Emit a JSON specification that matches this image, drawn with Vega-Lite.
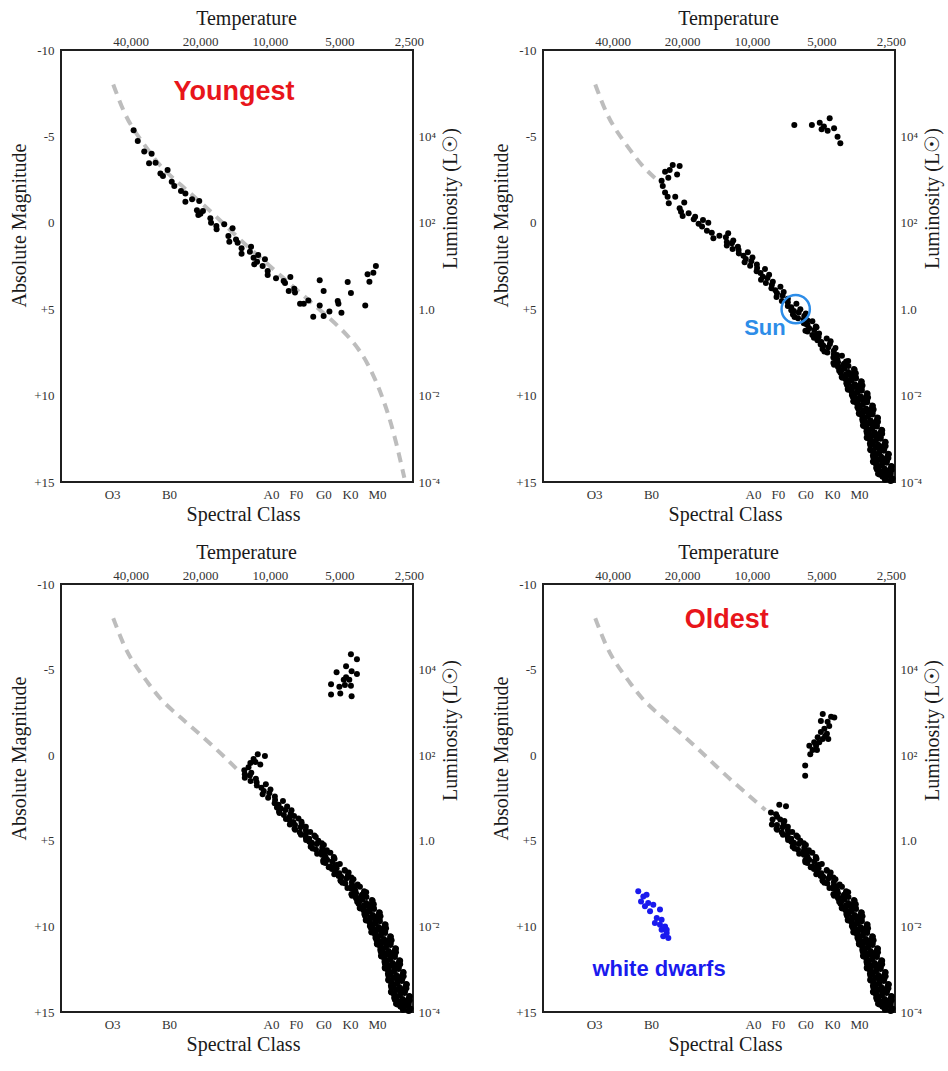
{
  "$schema": "https://vega.github.io/schema/vega-lite/v6.json",
  "background": "white",
  "padding": {"left": 8, "top": 7, "right": 5, "bottom": 5},
  "config": {
    "view": {"stroke": "#1f1f1f", "strokeWidth": 2},
    "axis": {"grid": false, "domain": false, "ticks": false, "tickSize": 0, "labelFont": "Liberation Serif", "labelFontSize": 13, "labelColor": "#333333", "titleFont": "Liberation Serif", "titleFontSize": 20, "titleFontWeight": "normal", "titleColor": "#1a1a1a"}
  },
  "datasets": {
    "zams": [
      {"logT": 4.677, "M": -8.0}, {"logT": 4.629, "M": -6.3}, {"logT": 4.586, "M": -5.31}, {"logT": 4.528, "M": -4.25},
      {"logT": 4.470, "M": -3.19}, {"logT": 4.394, "M": -2.3}, {"logT": 4.355, "M": -1.84}, {"logT": 4.240, "M": -0.49},
      {"logT": 4.128, "M": 1.0}, {"logT": 4.009, "M": 2.40}, {"logT": 3.941, "M": 3.2}, {"logT": 3.894, "M": 3.75},
      {"logT": 3.778, "M": 5.1}, {"logT": 3.663, "M": 6.45}, {"logT": 3.576, "M": 8.0}, {"logT": 3.505, "M": 10.3},
      {"logT": 3.461, "M": 12.24}, {"logT": 3.418, "M": 14.75}
    ],
    "stars": [
      {"p":"A","logT":4.589,"M":-5.35},{"p":"A","logT":4.571,"M":-4.73},{"p":"A","logT":4.543,"M":-4.12},{"p":"A","logT":4.511,"M":-4.00},
      {"p":"A","logT":4.522,"M":-3.44},{"p":"A","logT":4.494,"M":-3.48},{"p":"A","logT":4.473,"M":-2.86},{"p":"A","logT":4.462,"M":-2.71},
      {"p":"A","logT":4.442,"M":-3.06},{"p":"A","logT":4.424,"M":-2.38},{"p":"A","logT":4.413,"M":-2.13},{"p":"A","logT":4.384,"M":-1.84},
      {"p":"A","logT":4.365,"M":-1.69},{"p":"A","logT":4.365,"M":-1.22},{"p":"A","logT":4.336,"M":-1.36},{"p":"A","logT":4.305,"M":-1.26},
      {"p":"A","logT":4.315,"M":-0.72},{"p":"A","logT":4.300,"M":-0.53},{"p":"A","logT":4.289,"M":-0.68},{"p":"A","logT":4.309,"M":-0.45},
      {"p":"A","logT":4.257,"M":-0.26},{"p":"A","logT":4.254,"M":-0.01},{"p":"A","logT":4.231,"M":0.19},{"p":"A","logT":4.230,"M":0.38},
      {"p":"A","logT":4.197,"M":0.09},{"p":"A","logT":4.161,"M":0.32},{"p":"A","logT":4.179,"M":0.76},{"p":"A","logT":4.175,"M":1.09},
      {"p":"A","logT":4.146,"M":0.96},{"p":"A","logT":4.139,"M":1.15},{"p":"A","logT":4.122,"M":1.48},{"p":"A","logT":4.122,"M":1.79},
      {"p":"A","logT":4.081,"M":1.38},{"p":"A","logT":4.086,"M":1.67},{"p":"A","logT":4.070,"M":2.02},{"p":"A","logT":4.067,"M":2.40},
      {"p":"A","logT":4.050,"M":1.86},{"p":"A","logT":4.055,"M":2.25},{"p":"A","logT":4.021,"M":2.11},{"p":"A","logT":4.031,"M":2.50},
      {"p":"A","logT":4.009,"M":2.79},{"p":"A","logT":4.009,"M":3.02},{"p":"A","logT":3.973,"M":3.21},{"p":"A","logT":3.940,"M":3.37},
      {"p":"A","logT":3.934,"M":3.48},{"p":"A","logT":3.911,"M":3.14},{"p":"A","logT":3.918,"M":3.95},{"p":"A","logT":3.894,"M":3.81},
      {"p":"A","logT":3.891,"M":4.04},{"p":"A","logT":3.869,"M":4.68},{"p":"A","logT":3.853,"M":4.68},{"p":"A","logT":3.833,"M":4.49},
      {"p":"A","logT":3.812,"M":5.43},{"p":"A","logT":3.784,"M":3.33},{"p":"A","logT":3.767,"M":3.95},{"p":"A","logT":3.784,"M":4.78},
      {"p":"A","logT":3.767,"M":5.39},{"p":"A","logT":3.742,"M":5.14},{"p":"A","logT":3.706,"M":4.53},{"p":"A","logT":3.703,"M":4.68},
      {"p":"A","logT":3.690,"M":5.20},{"p":"A","logT":3.663,"M":3.43},{"p":"A","logT":3.649,"M":4.06},{"p":"A","logT":3.587,"M":4.78},
      {"p":"A","logT":3.569,"M":3.41},{"p":"A","logT":3.577,"M":2.98},{"p":"A","logT":3.552,"M":2.89},{"p":"A","logT":3.541,"M":2.50},

      {"p":"B","logT":4.342,"M":-3.34},{"p":"B","logT":4.312,"M":-3.29},{"p":"B","logT":4.355,"M":-3.06},{"p":"B","logT":4.375,"M":-2.96},
      {"p":"B","logT":4.323,"M":-2.80},{"p":"B","logT":4.361,"M":-2.61},{"p":"B","logT":4.390,"M":-2.44},{"p":"B","logT":4.385,"M":-2.13},
      {"p":"B","logT":4.375,"M":-1.76},{"p":"B","logT":4.364,"M":-1.51},{"p":"B","logT":4.331,"M":-1.51},{"p":"B","logT":4.359,"M":-1.13},
      {"p":"B","logT":4.292,"M":-1.17},{"p":"B","logT":4.312,"M":-0.84},{"p":"B","logT":4.306,"M":-0.64},{"p":"B","logT":4.299,"M":-0.39},
      {"p":"B","logT":4.273,"M":-0.55},{"p":"B","logT":4.251,"M":-0.20},{"p":"B","logT":4.211,"M":-0.16},{"p":"B","logT":4.188,"M":-0.01},
      {"p":"B","logT":4.215,"M":0.22},{"p":"B","logT":4.194,"M":0.46},{"p":"B","logT":4.173,"M":0.57},{"p":"B","logT":4.112,"M":0.84},
      {"p":"B","logT":4.166,"M":0.90},{"p":"B","logT":4.102,"M":0.61},{"p":"B","logT":4.140,"M":0.75},{"p":"B","logT":4.230,"M":0.05},
      {"p":"B","logT":4.245,"M":-0.35},
      {"p":"B","logT":3.816,"M":-5.66},{"p":"B","logT":3.740,"M":-5.66},{"p":"B","logT":3.706,"M":-5.79},{"p":"B","logT":3.663,"M":-6.05},
      {"p":"B","logT":3.698,"M":-5.41},{"p":"B","logT":3.672,"M":-5.33},{"p":"B","logT":3.644,"M":-5.47},{"p":"B","logT":3.629,"M":-4.98},
      {"p":"B","logT":3.617,"M":-4.60},{"p":"B","logT":3.688,"M":-5.57},

      {"p":"C","logT":4.052,"M":-0.05},{"p":"C","logT":4.021,"M":0.05},{"p":"C","logT":4.070,"M":0.22},{"p":"C","logT":4.084,"M":0.45},
      {"p":"C","logT":4.041,"M":0.55},{"p":"C","logT":4.110,"M":0.88},{"p":"C","logT":4.092,"M":0.70},{"p":"C","logT":4.062,"M":0.40},
      {"p":"C","logT":3.649,"M":-5.9},{"p":"C","logT":3.623,"M":-5.6},{"p":"C","logT":3.670,"M":-5.2},{"p":"C","logT":3.711,"M":-4.85},
      {"p":"C","logT":3.646,"M":-4.9},{"p":"C","logT":3.623,"M":-4.75},{"p":"C","logT":3.670,"M":-4.55},{"p":"C","logT":3.656,"M":-4.4},
      {"p":"C","logT":3.735,"M":-4.15},{"p":"C","logT":3.699,"M":-4.0},{"p":"C","logT":3.675,"M":-4.1},{"p":"C","logT":3.649,"M":-4.05},
      {"p":"C","logT":3.735,"M":-3.55},{"p":"C","logT":3.695,"M":-3.6},{"p":"C","logT":3.646,"M":-3.45},{"p":"C","logT":3.680,"M":-4.4},

      {"p":"D","logT":3.881,"M":2.9},{"p":"D","logT":3.852,"M":2.98},{"p":"D","logT":3.917,"M":3.35},{"p":"D","logT":3.895,"M":3.45},
      {"p":"D","logT":3.910,"M":3.75},{"p":"D","logT":3.877,"M":3.75},{"p":"D","logT":3.859,"M":3.85},{"p":"D","logT":3.890,"M":3.60},
      {"p":"D","logT":3.693,"M":-2.4},{"p":"D","logT":3.657,"M":-2.25},{"p":"D","logT":3.643,"M":-2.2},{"p":"D","logT":3.701,"M":-2.0},
      {"p":"D","logT":3.672,"M":-1.95},{"p":"D","logT":3.665,"M":-1.7},{"p":"D","logT":3.686,"M":-1.55},{"p":"D","logT":3.701,"M":-1.35},
      {"p":"D","logT":3.675,"M":-1.25},{"p":"D","logT":3.715,"M":-1.05},{"p":"D","logT":3.693,"M":-0.95},{"p":"D","logT":3.730,"M":-0.75},
      {"p":"D","logT":3.708,"M":-0.75},{"p":"D","logT":3.751,"M":-0.55},{"p":"D","logT":3.722,"M":-0.55},{"p":"D","logT":3.737,"M":-0.3},
      {"p":"D","logT":3.747,"M":-0.05},{"p":"D","logT":3.718,"M":-0.3},{"p":"D","logT":3.769,"M":0.6},{"p":"D","logT":3.769,"M":1.2},
      {"p":"D","logT":3.683,"M":-1.1},{"p":"D","logT":3.669,"M":-0.95},

      {"p":"WD","logT":4.491,"M":7.95},{"p":"WD","logT":4.469,"M":8.25},{"p":"WD","logT":4.455,"M":8.15},{"p":"WD","logT":4.479,"M":8.54},
      {"p":"WD","logT":4.448,"M":8.64},{"p":"WD","logT":4.426,"M":8.73},{"p":"WD","logT":4.462,"M":8.83},{"p":"WD","logT":4.440,"M":9.12},
      {"p":"WD","logT":4.397,"M":9.02},{"p":"WD","logT":4.411,"M":9.51},{"p":"WD","logT":4.390,"M":9.61},{"p":"WD","logT":4.419,"M":9.80},
      {"p":"WD","logT":4.397,"M":9.90},{"p":"WD","logT":4.375,"M":10.00},{"p":"WD","logT":4.390,"M":10.19},{"p":"WD","logT":4.368,"M":10.39},
      {"p":"WD","logT":4.383,"M":10.58},{"p":"WD","logT":4.361,"M":10.68},{"p":"WD","logT":4.368,"M":10.19},

      {"p":"CD","logT":3.969,"M":3.05},{"p":"CD","logT":3.906,"M":3.22},{"p":"CD","logT":3.958,"M":3.38},{"p":"CD","logT":3.895,"M":3.55},
      {"p":"CD","logT":3.930,"M":3.72},{"p":"CD","logT":3.863,"M":3.88},{"p":"CD","logT":3.913,"M":4.05},{"p":"CD","logT":3.844,"M":4.18},
      {"p":"CD","logT":3.890,"M":4.35},{"p":"CD","logT":3.825,"M":4.48},{"p":"CD","logT":3.865,"M":4.65},{"p":"CD","logT":3.801,"M":4.78},
      {"p":"CD","logT":3.843,"M":4.95},{"p":"CD","logT":3.775,"M":5.15},{"p":"CD","logT":3.823,"M":5.35},{"p":"CD","logT":3.753,"M":5.55},
      {"p":"CD","logT":3.795,"M":5.75},{"p":"CD","logT":3.723,"M":5.95},{"p":"CD","logT":3.769,"M":6.15},{"p":"CD","logT":3.697,"M":6.35},
      {"p":"CD","logT":3.745,"M":6.55},{"p":"CD","logT":3.675,"M":6.75},{"p":"CD","logT":3.721,"M":6.95},{"p":"CD","logT":3.647,"M":7.15},
      {"p":"CD","logT":3.693,"M":7.35},{"p":"CD","logT":3.620,"M":7.55},{"p":"CD","logT":3.664,"M":7.75},{"p":"CD","logT":3.592,"M":7.95},

      {"p":"ms","logT":4.080,"M":1.02},{"p":"ms","logT":4.108,"M":1.11},{"p":"ms","logT":4.086,"M":1.19},{"p":"ms","logT":4.108,"M":1.32},
      {"p":"ms","logT":4.060,"M":1.38},{"p":"ms","logT":4.083,"M":1.51},{"p":"ms","logT":4.057,"M":1.58},{"p":"ms","logT":4.017,"M":1.70},
      {"p":"ms","logT":4.056,"M":1.77},{"p":"ms","logT":4.036,"M":1.90},{"p":"ms","logT":3.997,"M":2.01},{"p":"ms","logT":4.026,"M":2.09},
      {"p":"ms","logT":4.002,"M":2.22},{"p":"ms","logT":4.031,"M":2.28},{"p":"ms","logT":3.978,"M":2.41},{"p":"ms","logT":4.007,"M":2.49},
      {"p":"ms","logT":3.977,"M":2.62},{"p":"ms","logT":3.943,"M":2.68},{"p":"ms","logT":3.979,"M":2.81},{"p":"ms","logT":3.962,"M":2.90},
      {"p":"ms","logT":3.925,"M":3.00},{"p":"ms","logT":3.952,"M":3.12},{"p":"ms","logT":3.932,"M":3.20},{"p":"ms","logT":3.960,"M":3.29},
      {"p":"ms","logT":3.909,"M":3.41},{"p":"ms","logT":3.939,"M":3.49},{"p":"ms","logT":3.913,"M":3.58},{"p":"ms","logT":3.876,"M":3.70},
      {"p":"ms","logT":3.915,"M":3.79},{"p":"ms","logT":3.898,"M":3.90},{"p":"ms","logT":3.862,"M":4.00},{"p":"ms","logT":3.891,"M":4.08},
      {"p":"ms","logT":3.867,"M":4.21},{"p":"ms","logT":3.893,"M":4.30},{"p":"ms","logT":3.844,"M":4.39},{"p":"ms","logT":3.870,"M":4.52},
      {"p":"ms","logT":3.844,"M":4.60},{"p":"ms","logT":3.807,"M":4.69},{"p":"ms","logT":3.844,"M":4.81},{"p":"ms","logT":3.829,"M":4.88},
      {"p":"ms","logT":3.790,"M":5.00},{"p":"ms","logT":3.818,"M":5.11},{"p":"ms","logT":3.797,"M":5.19},{"p":"ms","logT":3.822,"M":5.31},
      {"p":"ms","logT":3.773,"M":5.40},{"p":"ms","logT":3.800,"M":5.52},{"p":"ms","logT":3.775,"M":5.59},{"p":"ms","logT":3.738,"M":5.70},
      {"p":"ms","logT":3.775,"M":5.82},{"p":"ms","logT":3.759,"M":5.91},{"p":"ms","logT":3.723,"M":6.00},{"p":"ms","logT":3.752,"M":6.10},
      {"p":"ms","logT":3.730,"M":6.21},{"p":"ms","logT":3.759,"M":6.29},{"p":"ms","logT":3.709,"M":6.40},{"p":"ms","logT":3.738,"M":6.50},
      {"p":"ms","logT":3.711,"M":6.61},{"p":"ms","logT":3.676,"M":6.70},{"p":"ms","logT":3.716,"M":6.79},{"p":"ms","logT":3.699,"M":6.90},
      {"p":"ms","logT":3.662,"M":7.01},{"p":"ms","logT":3.691,"M":7.10},{"p":"ms","logT":3.669,"M":7.20},{"p":"ms","logT":3.694,"M":7.31},
      {"p":"ms","logT":3.645,"M":7.40},{"p":"ms","logT":3.673,"M":7.50},{"p":"ms","logT":3.645,"M":7.61},{"p":"ms","logT":3.610,"M":7.69},
      {"p":"ms","logT":3.647,"M":7.80},{"p":"ms","logT":3.630,"M":7.90},
      {"p":"ms","logT":3.583,"M":8.00},{"p":"ms","logT":3.627,"M":8.07},{"p":"ms","logT":3.601,"M":8.15},{"p":"ms","logT":3.644,"M":8.21},
      {"p":"ms","logT":3.582,"M":8.29},{"p":"ms","logT":3.627,"M":8.35},{"p":"ms","logT":3.600,"M":8.43},{"p":"ms","logT":3.555,"M":8.50},
      {"p":"ms","logT":3.622,"M":8.56},{"p":"ms","logT":3.583,"M":8.64},{"p":"ms","logT":3.550,"M":8.71},{"p":"ms","logT":3.593,"M":8.78},
      {"p":"ms","logT":3.568,"M":8.85},{"p":"ms","logT":3.611,"M":8.92},{"p":"ms","logT":3.549,"M":8.99},{"p":"ms","logT":3.594,"M":9.06},
      {"p":"ms","logT":3.568,"M":9.13},{"p":"ms","logT":3.524,"M":9.20},{"p":"ms","logT":3.591,"M":9.28},{"p":"ms","logT":3.554,"M":9.34},
      {"p":"ms","logT":3.521,"M":9.41},{"p":"ms","logT":3.566,"M":9.48},{"p":"ms","logT":3.541,"M":9.55},{"p":"ms","logT":3.585,"M":9.62},
      {"p":"ms","logT":3.524,"M":9.70},{"p":"ms","logT":3.569,"M":9.76},{"p":"ms","logT":3.544,"M":9.83},{"p":"ms","logT":3.499,"M":9.90},
      {"p":"ms","logT":3.567,"M":9.97},{"p":"ms","logT":3.530,"M":10.04},{"p":"ms","logT":3.497,"M":10.11},{"p":"ms","logT":3.542,"M":10.18},
      {"p":"ms","logT":3.517,"M":10.25},{"p":"ms","logT":3.561,"M":10.32},{"p":"ms","logT":3.501,"M":10.39},{"p":"ms","logT":3.545,"M":10.46},
      {"p":"ms","logT":3.520,"M":10.53},{"p":"ms","logT":3.476,"M":10.60},{"p":"ms","logT":3.543,"M":10.67},{"p":"ms","logT":3.506,"M":10.74},
      {"p":"ms","logT":3.473,"M":10.81},{"p":"ms","logT":3.518,"M":10.88},{"p":"ms","logT":3.494,"M":10.95},{"p":"ms","logT":3.537,"M":11.02},
      {"p":"ms","logT":3.478,"M":11.09},{"p":"ms","logT":3.523,"M":11.16},{"p":"ms","logT":3.498,"M":11.23},{"p":"ms","logT":3.454,"M":11.30},
      {"p":"ms","logT":3.522,"M":11.37},{"p":"ms","logT":3.486,"M":11.44},{"p":"ms","logT":3.454,"M":11.51},{"p":"ms","logT":3.499,"M":11.58},
      {"p":"ms","logT":3.475,"M":11.65},{"p":"ms","logT":3.519,"M":11.72},{"p":"ms","logT":3.459,"M":11.79},{"p":"ms","logT":3.505,"M":11.86},
      {"p":"ms","logT":3.480,"M":11.93},{"p":"ms","logT":3.436,"M":12.00},{"p":"ms","logT":3.504,"M":12.07},{"p":"ms","logT":3.468,"M":12.14},
      {"p":"ms","logT":3.436,"M":12.21},{"p":"ms","logT":3.482,"M":12.28},{"p":"ms","logT":3.458,"M":12.35},{"p":"ms","logT":3.503,"M":12.42},
      {"p":"ms","logT":3.443,"M":12.49},{"p":"ms","logT":3.489,"M":12.56},{"p":"ms","logT":3.464,"M":12.63},{"p":"ms","logT":3.421,"M":12.70},
      {"p":"ms","logT":3.489,"M":12.77},{"p":"ms","logT":3.453,"M":12.84},{"p":"ms","logT":3.421,"M":12.91},{"p":"ms","logT":3.466,"M":12.98},
      {"p":"ms","logT":3.443,"M":13.05},{"p":"ms","logT":3.488,"M":13.12},{"p":"ms","logT":3.429,"M":13.19},{"p":"ms","logT":3.475,"M":13.26},
      {"p":"ms","logT":3.450,"M":13.33},{"p":"ms","logT":3.407,"M":13.40},{"p":"ms","logT":3.476,"M":13.47},{"p":"ms","logT":3.440,"M":13.54},
      {"p":"ms","logT":3.409,"M":13.61},{"p":"ms","logT":3.454,"M":13.68},{"p":"ms","logT":3.431,"M":13.75},{"p":"ms","logT":3.476,"M":13.82},
      {"p":"ms","logT":3.417,"M":13.89},{"p":"ms","logT":3.463,"M":13.96},{"p":"ms","logT":3.438,"M":14.03},{"p":"ms","logT":3.394,"M":14.10},
      {"p":"ms","logT":3.462,"M":14.17},{"p":"ms","logT":3.425,"M":14.24},{"p":"ms","logT":3.394,"M":14.31},{"p":"ms","logT":3.439,"M":14.38},
      {"p":"ms","logT":3.415,"M":14.45},{"p":"ms","logT":3.454,"M":14.52},{"p":"ms","logT":3.400,"M":14.59},{"p":"ms","logT":3.435,"M":14.66},
      {"p":"ms","logT":3.420,"M":14.73},{"p":"ms","logT":3.391,"M":14.80},{"p":"ms","logT":3.424,"M":14.87},{"p":"ms","logT":3.400,"M":14.94},

      {"p":"ms","logT":3.829,"M":5.06},{"p":"ms","logT":3.766,"M":5.25},{"p":"ms","logT":3.815,"M":5.45},{"p":"ms","logT":3.759,"M":5.65},
      {"p":"ms","logT":3.765,"M":5.86},{"p":"ms","logT":3.720,"M":6.05},{"p":"ms","logT":3.768,"M":6.25},{"p":"ms","logT":3.718,"M":6.45},
      {"p":"ms","logT":3.731,"M":6.65},{"p":"ms","logT":3.659,"M":6.85},{"p":"ms","logT":3.702,"M":7.05},{"p":"ms","logT":3.638,"M":7.25},
      {"p":"ms","logT":3.686,"M":7.45},{"p":"ms","logT":3.631,"M":7.65},{"p":"ms","logT":3.637,"M":7.85},
      {"p":"ms","logT":3.592,"M":8.03},{"p":"ms","logT":3.647,"M":8.12},{"p":"ms","logT":3.604,"M":8.24},{"p":"ms","logT":3.624,"M":8.33},
      {"p":"ms","logT":3.558,"M":8.46},{"p":"ms","logT":3.611,"M":8.53},{"p":"ms","logT":3.557,"M":8.61},{"p":"ms","logT":3.616,"M":8.68},
      {"p":"ms","logT":3.571,"M":8.75},{"p":"ms","logT":3.588,"M":8.82},{"p":"ms","logT":3.551,"M":8.89},{"p":"ms","logT":3.608,"M":8.96},
      {"p":"ms","logT":3.567,"M":9.03},{"p":"ms","logT":3.589,"M":9.10},{"p":"ms","logT":3.527,"M":9.17},{"p":"ms","logT":3.581,"M":9.24},
      {"p":"ms","logT":3.528,"M":9.31},{"p":"ms","logT":3.588,"M":9.38},{"p":"ms","logT":3.543,"M":9.45},{"p":"ms","logT":3.561,"M":9.52},
      {"p":"ms","logT":3.525,"M":9.59},{"p":"ms","logT":3.583,"M":9.66},{"p":"ms","logT":3.542,"M":9.73},{"p":"ms","logT":3.565,"M":9.80},
      {"p":"ms","logT":3.502,"M":9.87},{"p":"ms","logT":3.556,"M":9.94},{"p":"ms","logT":3.504,"M":10.01},{"p":"ms","logT":3.563,"M":10.08},
      {"p":"ms","logT":3.519,"M":10.15},{"p":"ms","logT":3.537,"M":10.22},{"p":"ms","logT":3.501,"M":10.29},{"p":"ms","logT":3.559,"M":10.36},
      {"p":"ms","logT":3.518,"M":10.43},{"p":"ms","logT":3.541,"M":10.50},{"p":"ms","logT":3.479,"M":10.57},{"p":"ms","logT":3.532,"M":10.64},
      {"p":"ms","logT":3.480,"M":10.71},{"p":"ms","logT":3.539,"M":10.78},{"p":"ms","logT":3.495,"M":10.85},{"p":"ms","logT":3.513,"M":10.92},
      {"p":"ms","logT":3.477,"M":10.99},{"p":"ms","logT":3.535,"M":11.06},{"p":"ms","logT":3.496,"M":11.13},{"p":"ms","logT":3.519,"M":11.20},
      {"p":"ms","logT":3.457,"M":11.27},{"p":"ms","logT":3.511,"M":11.34},{"p":"ms","logT":3.459,"M":11.41},{"p":"ms","logT":3.520,"M":11.48},
      {"p":"ms","logT":3.476,"M":11.55},{"p":"ms","logT":3.494,"M":11.62},{"p":"ms","logT":3.459,"M":11.69},{"p":"ms","logT":3.517,"M":11.76},
      {"p":"ms","logT":3.477,"M":11.83},{"p":"ms","logT":3.501,"M":11.90},{"p":"ms","logT":3.439,"M":11.97},{"p":"ms","logT":3.493,"M":12.04},
      {"p":"ms","logT":3.442,"M":12.11},{"p":"ms","logT":3.502,"M":12.18},{"p":"ms","logT":3.459,"M":12.25},{"p":"ms","logT":3.477,"M":12.32},
      {"p":"ms","logT":3.442,"M":12.39},{"p":"ms","logT":3.501,"M":12.46},{"p":"ms","logT":3.461,"M":12.53},{"p":"ms","logT":3.485,"M":12.60},
      {"p":"ms","logT":3.423,"M":12.67},{"p":"ms","logT":3.478,"M":12.74},{"p":"ms","logT":3.426,"M":12.81},{"p":"ms","logT":3.487,"M":12.88},
      {"p":"ms","logT":3.443,"M":12.95},{"p":"ms","logT":3.462,"M":13.02},{"p":"ms","logT":3.427,"M":13.09},{"p":"ms","logT":3.486,"M":13.16},
      {"p":"ms","logT":3.447,"M":13.23},{"p":"ms","logT":3.471,"M":13.30},{"p":"ms","logT":3.410,"M":13.37},{"p":"ms","logT":3.464,"M":13.44},
      {"p":"ms","logT":3.413,"M":13.51},{"p":"ms","logT":3.474,"M":13.58},{"p":"ms","logT":3.431,"M":13.65},{"p":"ms","logT":3.450,"M":13.72},
      {"p":"ms","logT":3.415,"M":13.79},{"p":"ms","logT":3.474,"M":13.86},{"p":"ms","logT":3.435,"M":13.93},{"p":"ms","logT":3.459,"M":14.00},
      {"p":"ms","logT":3.397,"M":14.07},{"p":"ms","logT":3.451,"M":14.14},{"p":"ms","logT":3.399,"M":14.21},{"p":"ms","logT":3.459,"M":14.28},
      {"p":"ms","logT":3.416,"M":14.35},{"p":"ms","logT":3.434,"M":14.42},{"p":"ms","logT":3.399,"M":14.49},{"p":"ms","logT":3.448,"M":14.56},
      {"p":"ms","logT":3.418,"M":14.63},{"p":"ms","logT":3.434,"M":14.70},{"p":"ms","logT":3.397,"M":14.77},{"p":"ms","logT":3.420,"M":14.84},
      {"p":"ms","logT":3.395,"M":14.91}
    ]
  },
  "bounds": "flush",
  "columns": 2,
  "spacing": {"row": 102, "column": 130},
  "concat": [
    {
      "width": 352, "height": 432,
      "layer": [
        {
          "data": {"name": "zams"},
          "mark": {"type": "line", "stroke": "#bdbdbd", "strokeWidth": 4, "strokeDash": [10, 7], "interpolate": "basis"},
          "encoding": {
            "x": {"field": "logT", "type": "quantitative", "scale": {"domain": [3.3805, 4.903], "reverse": true, "zero": false, "nice": false},
              "axis": {"orient": "top", "title": "Temperature", "values": [4.60206, 4.30103, 4, 3.69897, 3.39794], "labelExpr": "format(pow(10, datum.value), ',.2r')", "labelPadding": 2, "labelFlush": false, "labelOverlap": false, "titleX": 185, "titleY": -32, "titleBaseline": "middle", "titleAlign": "center"}},
            "y": {"field": "M", "type": "quantitative", "scale": {"domain": [-10, 15], "reverse": true, "zero": false, "nice": false},
              "axis": {"orient": "left", "title": "Absolute Magnitude", "values": [-10, -5, 0, 5, 10, 15], "labelExpr": "datum.value > 0 ? '+' + datum.value : datum.value < 0 ? '-' + (-datum.value) : '0'", "labelPadding": 7, "titleX": -42, "titleY": 175, "titleAngle": 270, "titleBaseline": "middle", "titleAlign": "center"}},
            "order": {"field": "M", "type": "quantitative"}
          }
        },
        {
          "data": {"name": "stars"},
          "transform": [{"filter": "datum.p == 'A'"}],
          "mark": {"type": "circle", "size": 36, "opacity": 1, "color": "#000000"},
          "encoding": {
            "x": {"field": "logT", "type": "quantitative", "scale": {"domain": [3.3805, 4.903], "reverse": true, "zero": false, "nice": false},
              "axis": {"orient": "bottom", "title": "Spectral Class", "values": [4.682, 4.436, 3.995, 3.887, 3.768, 3.653, 3.536], "labelExpr": "datum.value > 4.6 ? 'O3' : datum.value > 4.3 ? 'B0' : datum.value > 3.95 ? 'A0' : datum.value > 3.85 ? 'F0' : datum.value > 3.7 ? 'G0' : datum.value > 3.6 ? 'K0' : 'M0'", "labelPadding": 6, "labelFlush": false, "labelOverlap": false, "titleX": 182, "titleY": 32, "titleBaseline": "middle", "titleAlign": "center"}},
            "y": {"field": "M", "type": "quantitative", "scale": {"domain": [-10, 15], "reverse": true, "zero": false, "nice": false},
              "axis": {"orient": "right", "title": "Luminosity (L☉)", "values": [-5, 0, 5, 10, 15], "labelExpr": "datum.value == -5 ? '10⁴' : datum.value == 0 ? '10²' : datum.value == 5 ? '1.0' : datum.value == 10 ? '10⁻²' : '10⁻⁴'", "labelPadding": 5, "titleX": 37, "titleY": 148, "titleAngle": 270, "titleBaseline": "middle", "titleAlign": "center"}}
          }
        },
        {
          "data": {"values": [{"logT": 4.155, "M": -7.57, "label": "Youngest"}]},
          "mark": {"type": "text", "font": "Liberation Sans", "fontWeight": "bold", "fontSize": 27, "color": "#e8151b", "align": "center", "baseline": "middle"},
          "encoding": {
            "x": {"field": "logT", "type": "quantitative", "scale": {"domain": [3.3805, 4.903], "reverse": true, "zero": false, "nice": false}, "axis": null},
            "y": {"field": "M", "type": "quantitative", "scale": {"domain": [-10, 15], "reverse": true, "zero": false, "nice": false}, "axis": null},
            "text": {"field": "label"}
          }
        }
      ],
      "resolve": {"axis": {"x": "independent", "y": "independent"}}
    },
    {
      "width": 352, "height": 432,
      "layer": [
        {
          "data": {"name": "zams"},
          "transform": [{"filter": "datum.M <= -2.3"}],
          "mark": {"type": "line", "stroke": "#bdbdbd", "strokeWidth": 4, "strokeDash": [10, 7], "interpolate": "basis"},
          "encoding": {
            "x": {"field": "logT", "type": "quantitative", "scale": {"domain": [3.3805, 4.903], "reverse": true, "zero": false, "nice": false},
              "axis": {"orient": "top", "title": "Temperature", "values": [4.60206, 4.30103, 4, 3.69897, 3.39794], "labelExpr": "format(pow(10, datum.value), ',.2r')", "labelPadding": 2, "labelFlush": false, "labelOverlap": false, "titleX": 185, "titleY": -32, "titleBaseline": "middle", "titleAlign": "center"}},
            "y": {"field": "M", "type": "quantitative", "scale": {"domain": [-10, 15], "reverse": true, "zero": false, "nice": false},
              "axis": {"orient": "left", "title": "Absolute Magnitude", "values": [-10, -5, 0, 5, 10, 15], "labelExpr": "datum.value > 0 ? '+' + datum.value : datum.value < 0 ? '-' + (-datum.value) : '0'", "labelPadding": 7, "titleX": -42, "titleY": 175, "titleAngle": 270, "titleBaseline": "middle", "titleAlign": "center"}},
            "order": {"field": "M", "type": "quantitative"}
          }
        },
        {
          "data": {"name": "stars"},
          "transform": [{"filter": "datum.p == 'B' || datum.p == 'ms'"}],
          "mark": {"type": "circle", "size": 36, "opacity": 1, "color": "#000000"},
          "encoding": {
            "x": {"field": "logT", "type": "quantitative", "scale": {"domain": [3.3805, 4.903], "reverse": true, "zero": false, "nice": false},
              "axis": {"orient": "bottom", "title": "Spectral Class", "values": [4.682, 4.436, 3.995, 3.887, 3.768, 3.653, 3.536], "labelExpr": "datum.value > 4.6 ? 'O3' : datum.value > 4.3 ? 'B0' : datum.value > 3.95 ? 'A0' : datum.value > 3.85 ? 'F0' : datum.value > 3.7 ? 'G0' : datum.value > 3.6 ? 'K0' : 'M0'", "labelPadding": 6, "labelFlush": false, "labelOverlap": false, "titleX": 182, "titleY": 32, "titleBaseline": "middle", "titleAlign": "center"}},
            "y": {"field": "M", "type": "quantitative", "scale": {"domain": [-10, 15], "reverse": true, "zero": false, "nice": false},
              "axis": {"orient": "right", "title": "Luminosity (L☉)", "values": [-5, 0, 5, 10, 15], "labelExpr": "datum.value == -5 ? '10⁴' : datum.value == 0 ? '10²' : datum.value == 5 ? '1.0' : datum.value == 10 ? '10⁻²' : '10⁻⁴'", "labelPadding": 5, "titleX": 37, "titleY": 148, "titleAngle": 270, "titleBaseline": "middle", "titleAlign": "center"}}
          }
        },
        {
          "mark": {"type": "rule", "stroke": "#2d8de8", "strokeWidth": 3, "strokeDash": [11, 6]},
          "encoding": {
            "y": {"datum": 5, "type": "quantitative", "scale": {"domain": [-10, 15], "reverse": true, "zero": false, "nice": false}, "axis": null}
          }
        },
        {
          "data": {"values": [{"logT": 3.810, "M": 5.0}]},
          "mark": {"type": "point", "shape": "circle", "filled": false, "size": 800, "stroke": "#2d8de8", "strokeWidth": 2.5, "opacity": 1},
          "encoding": {
            "x": {"field": "logT", "type": "quantitative", "scale": {"domain": [3.3805, 4.903], "reverse": true, "zero": false, "nice": false}, "axis": null},
            "y": {"field": "M", "type": "quantitative", "scale": {"domain": [-10, 15], "reverse": true, "zero": false, "nice": false}, "axis": null}
          }
        },
        {
          "data": {"values": [{"logT": 3.943, "M": 6.09, "label": "Sun"}]},
          "mark": {"type": "text", "font": "Liberation Sans", "fontWeight": "bold", "fontSize": 22, "color": "#2d8de8", "align": "center", "baseline": "middle"},
          "encoding": {
            "x": {"field": "logT", "type": "quantitative", "scale": {"domain": [3.3805, 4.903], "reverse": true, "zero": false, "nice": false}, "axis": null},
            "y": {"field": "M", "type": "quantitative", "scale": {"domain": [-10, 15], "reverse": true, "zero": false, "nice": false}, "axis": null},
            "text": {"field": "label"}
          }
        }
      ],
      "resolve": {"axis": {"x": "independent", "y": "independent"}}
    },
    {
      "width": 352, "height": 428,
      "layer": [
        {
          "data": {"name": "zams"},
          "transform": [{"filter": "datum.M <= 1.0"}],
          "mark": {"type": "line", "stroke": "#bdbdbd", "strokeWidth": 4, "strokeDash": [10, 7], "interpolate": "basis"},
          "encoding": {
            "x": {"field": "logT", "type": "quantitative", "scale": {"domain": [3.3805, 4.903], "reverse": true, "zero": false, "nice": false},
              "axis": {"orient": "top", "title": "Temperature", "values": [4.60206, 4.30103, 4, 3.69897, 3.39794], "labelExpr": "format(pow(10, datum.value), ',.2r')", "labelPadding": 2, "labelFlush": false, "labelOverlap": false, "titleX": 185, "titleY": -32, "titleBaseline": "middle", "titleAlign": "center"}},
            "y": {"field": "M", "type": "quantitative", "scale": {"domain": [-10, 15], "reverse": true, "zero": false, "nice": false},
              "axis": {"orient": "left", "title": "Absolute Magnitude", "values": [-10, -5, 0, 5, 10, 15], "labelExpr": "datum.value > 0 ? '+' + datum.value : datum.value < 0 ? '-' + (-datum.value) : '0'", "labelPadding": 7, "titleX": -42, "titleY": 174, "titleAngle": 270, "titleBaseline": "middle", "titleAlign": "center"}},
            "order": {"field": "M", "type": "quantitative"}
          }
        },
        {
          "data": {"name": "stars"},
          "transform": [{"filter": "datum.p == 'C' || datum.p == 'ms' || datum.p == 'CD'"}],
          "mark": {"type": "circle", "size": 36, "opacity": 1, "color": "#000000"},
          "encoding": {
            "x": {"field": "logT", "type": "quantitative", "scale": {"domain": [3.3805, 4.903], "reverse": true, "zero": false, "nice": false},
              "axis": {"orient": "bottom", "title": "Spectral Class", "values": [4.682, 4.436, 3.995, 3.887, 3.768, 3.653, 3.536], "labelExpr": "datum.value > 4.6 ? 'O3' : datum.value > 4.3 ? 'B0' : datum.value > 3.95 ? 'A0' : datum.value > 3.85 ? 'F0' : datum.value > 3.7 ? 'G0' : datum.value > 3.6 ? 'K0' : 'M0'", "labelPadding": 6, "labelFlush": false, "labelOverlap": false, "titleX": 182, "titleY": 32, "titleBaseline": "middle", "titleAlign": "center"}},
            "y": {"field": "M", "type": "quantitative", "scale": {"domain": [-10, 15], "reverse": true, "zero": false, "nice": false},
              "axis": {"orient": "right", "title": "Luminosity (L☉)", "values": [-5, 0, 5, 10, 15], "labelExpr": "datum.value == -5 ? '10⁴' : datum.value == 0 ? '10²' : datum.value == 5 ? '1.0' : datum.value == 10 ? '10⁻²' : '10⁻⁴'", "labelPadding": 5, "titleX": 37, "titleY": 146, "titleAngle": 270, "titleBaseline": "middle", "titleAlign": "center"}}
          }
        }
      ],
      "resolve": {"axis": {"x": "independent", "y": "independent"}}
    },
    {
      "width": 352, "height": 428,
      "layer": [
        {
          "data": {"name": "zams"},
          "transform": [{"filter": "datum.M <= 3.2"}],
          "mark": {"type": "line", "stroke": "#bdbdbd", "strokeWidth": 4, "strokeDash": [10, 7], "interpolate": "basis"},
          "encoding": {
            "x": {"field": "logT", "type": "quantitative", "scale": {"domain": [3.3805, 4.903], "reverse": true, "zero": false, "nice": false},
              "axis": {"orient": "top", "title": "Temperature", "values": [4.60206, 4.30103, 4, 3.69897, 3.39794], "labelExpr": "format(pow(10, datum.value), ',.2r')", "labelPadding": 2, "labelFlush": false, "labelOverlap": false, "titleX": 185, "titleY": -32, "titleBaseline": "middle", "titleAlign": "center"}},
            "y": {"field": "M", "type": "quantitative", "scale": {"domain": [-10, 15], "reverse": true, "zero": false, "nice": false},
              "axis": {"orient": "left", "title": "Absolute Magnitude", "values": [-10, -5, 0, 5, 10, 15], "labelExpr": "datum.value > 0 ? '+' + datum.value : datum.value < 0 ? '-' + (-datum.value) : '0'", "labelPadding": 7, "titleX": -42, "titleY": 174, "titleAngle": 270, "titleBaseline": "middle", "titleAlign": "center"}},
            "order": {"field": "M", "type": "quantitative"}
          }
        },
        {
          "data": {"name": "stars"},
          "transform": [{"filter": "datum.p == 'D' || datum.p == 'WD' || ((datum.p == 'ms' || datum.p == 'CD') && datum.M >= 3.95)"}],
          "mark": {"type": "circle", "size": 36, "opacity": 1},
          "encoding": {
            "x": {"field": "logT", "type": "quantitative", "scale": {"domain": [3.3805, 4.903], "reverse": true, "zero": false, "nice": false},
              "axis": {"orient": "bottom", "title": "Spectral Class", "values": [4.682, 4.436, 3.995, 3.887, 3.768, 3.653, 3.536], "labelExpr": "datum.value > 4.6 ? 'O3' : datum.value > 4.3 ? 'B0' : datum.value > 3.95 ? 'A0' : datum.value > 3.85 ? 'F0' : datum.value > 3.7 ? 'G0' : datum.value > 3.6 ? 'K0' : 'M0'", "labelPadding": 6, "labelFlush": false, "labelOverlap": false, "titleX": 182, "titleY": 32, "titleBaseline": "middle", "titleAlign": "center"}},
            "y": {"field": "M", "type": "quantitative", "scale": {"domain": [-10, 15], "reverse": true, "zero": false, "nice": false},
              "axis": {"orient": "right", "title": "Luminosity (L☉)", "values": [-5, 0, 5, 10, 15], "labelExpr": "datum.value == -5 ? '10⁴' : datum.value == 0 ? '10²' : datum.value == 5 ? '1.0' : datum.value == 10 ? '10⁻²' : '10⁻⁴'", "labelPadding": 5, "titleX": 37, "titleY": 146, "titleAngle": 270, "titleBaseline": "middle", "titleAlign": "center"}},
            "color": {"condition": {"test": "datum.p == 'WD'", "value": "#1a1aee"}, "value": "#000000"}
          }
        },
        {
          "data": {"values": [{"logT": 4.108, "M": -7.89, "label": "Oldest"}, {"logT": 4.401, "M": 12.51, "label": "white dwarfs"}]},
          "mark": {"type": "text", "font": "Liberation Sans", "fontWeight": "bold", "align": "center", "baseline": "middle"},
          "encoding": {
            "x": {"field": "logT", "type": "quantitative", "scale": {"domain": [3.3805, 4.903], "reverse": true, "zero": false, "nice": false}, "axis": null},
            "y": {"field": "M", "type": "quantitative", "scale": {"domain": [-10, 15], "reverse": true, "zero": false, "nice": false}, "axis": null},
            "text": {"field": "label"},
            "color": {"condition": {"test": "datum.label == 'Oldest'", "value": "#e8151b"}, "value": "#1a1aee"},
            "size": {"condition": {"test": "datum.label == 'Oldest'", "value": 27}, "value": 22}
          }
        }
      ],
      "resolve": {"axis": {"x": "independent", "y": "independent"}}
    }
  ]
}
